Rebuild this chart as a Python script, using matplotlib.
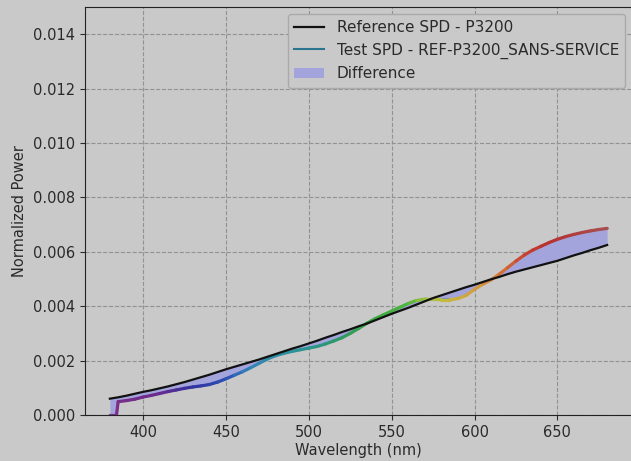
import numpy as np
import matplotlib
matplotlib.use('Agg')
import matplotlib.pyplot as plt
from matplotlib.collections import LineCollection
from matplotlib.colors import LinearSegmentedColormap

# wavelengths (nm)
wavelengths = [380, 384] + list(range(385, 681, 5))

# reference SPD - P3200
ref_spd = [
    0.00060, 0.00064,
    0.00065, 0.00071, 0.00078, 0.00085, 0.00091, 0.00098, 0.00105, 0.00113,
    0.00121, 0.00130, 0.00139, 0.00148, 0.00158, 0.00168, 0.00177, 0.00186,
    0.00195, 0.00204, 0.00214, 0.00224, 0.00234, 0.00244, 0.00253, 0.00263,
    0.00273, 0.00284, 0.00294, 0.00305, 0.00315, 0.00326, 0.00336, 0.00348,
    0.00360, 0.00372, 0.00383, 0.00394, 0.00406, 0.00418, 0.00430, 0.00440,
    0.00450, 0.00460, 0.00470, 0.00479, 0.00489, 0.00499, 0.00508, 0.00518,
    0.00527, 0.00535, 0.00543, 0.00551, 0.00559, 0.00567, 0.00577, 0.00587,
    0.00596, 0.00606, 0.00615, 0.00625,
]

# test SPD - REF-P3200_SANS-SERVICE
test_spd = [
    0.0, 0.0,
    0.00049, 0.00053, 0.00058, 0.00066, 0.00072, 0.00079, 0.00086, 0.00092,
    0.00098, 0.00103, 0.00107, 0.00112, 0.00121, 0.00133, 0.00146, 0.00159,
    0.00174, 0.00190, 0.00206, 0.00218, 0.00227, 0.00234, 0.00240, 0.00246,
    0.00252, 0.00261, 0.00272, 0.00284, 0.00300, 0.00318, 0.00337, 0.00354,
    0.00368, 0.00382, 0.00396, 0.00410, 0.00421, 0.00426, 0.00425, 0.00424,
    0.00424, 0.00428, 0.00440, 0.00462, 0.00481, 0.00497, 0.00518, 0.00542,
    0.00566, 0.00588, 0.00606, 0.00620, 0.00634, 0.00646, 0.00656, 0.00664,
    0.00671, 0.00677, 0.00682, 0.00686,
]

# colour stops of the spectral line (wavelength, colour)
SPEC_STOPS = [
    (380, '#7e3088'), (410, '#6a2a8e'), (430, '#3232a0'), (450, '#2c4fb4'),
    (465, '#3585b8'), (480, '#2f8ea4'), (500, '#2c9690'), (520, '#2e9a62'),
    (540, '#3aa83e'), (560, '#4cb83c'), (570, '#98be40'), (582, '#c2bc40'),
    (600, '#d2a040'), (615, '#d67a36'), (630, '#c84434'), (645, '#b8302e'),
    (680, '#a85050'),
]

BG = '#c9c9c9'
TXT = '#2a2a2a'
FS = 10.5

lo, hi = SPEC_STOPS[0][0], SPEC_STOPS[-1][0]
specCmap = LinearSegmentedColormap.from_list(
    'spec', [((w - lo) / (hi - lo), c) for w, c in SPEC_STOPS])

wl = np.array(wavelengths, dtype=float)
ref = np.array(ref_spd)
test = np.array(test_spd)

fig = plt.figure(figsize=(6.31, 4.61), dpi=100, facecolor=BG)
ax = fig.add_axes([85 / 631, 46 / 461, 547 / 631, 408 / 461], facecolor=BG)

ax.fill_between(wl, ref, test, color='#a4a4dc', lw=0, label='Difference', zorder=2)
ax.plot(wl, test, color='#2b7590', lw=1.5, label='Test SPD - REF-P3200_SANS-SERVICE', zorder=3)

pts = np.column_stack([wl, test]).reshape(-1, 1, 2)
segs = np.concatenate([pts[:-1], pts[1:]], axis=1)
lc = LineCollection(segs, cmap=specCmap, linewidths=2.3, capstyle='round', zorder=4)
lc.set_array((wl[:-1] + wl[1:]) / 2)
lc.set_clim(lo, hi)
ax.add_collection(lc)

ax.plot(wl, ref, color='#111111', lw=1.6, label='Reference SPD - P3200', zorder=5)

ax.set_xlim(365, 695)
ax.set_ylim(0, 0.015)
ax.set_xticks([400, 450, 500, 550, 600, 650])
ax.set_yticks(np.arange(0, 0.0141, 0.002))
ax.yaxis.set_major_formatter(matplotlib.ticker.FormatStrFormatter('%.3f'))

ax.grid(True, linestyle='--', color='#929292', lw=0.8)
ax.set_axisbelow(True)
ax.tick_params(labelsize=FS, colors=TXT)
for s in ax.spines.values():
    s.set_color('#222222')
ax.spines['right'].set_visible(False)

ax.set_xlabel('Wavelength (nm)', fontsize=FS, color=TXT, labelpad=2)
ax.set_ylabel('Normalized Power', fontsize=FS, color=TXT)

handles, labels = ax.get_legend_handles_labels()
order = [2, 1, 0]
leg = ax.legend([handles[i] for i in order], [labels[i] for i in order],
                loc='upper right', fontsize=11, facecolor=BG, edgecolor='#aaaaaa',
                framealpha=1, borderaxespad=0.45)
for t in leg.get_texts():
    t.set_color(TXT)

fig.savefig('out.png', dpi=100, facecolor=BG)
